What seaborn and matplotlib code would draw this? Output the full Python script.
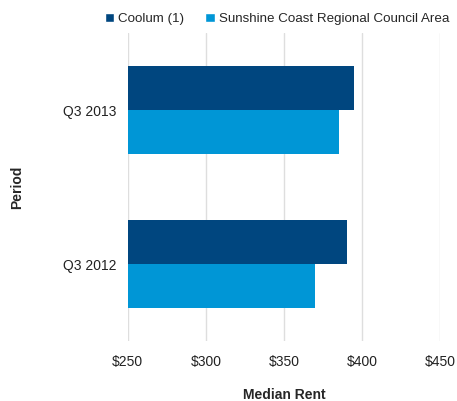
import matplotlib
matplotlib.use("Agg")
import matplotlib.pyplot as plt
import seaborn as sns
import pandas as pd
from matplotlib.patches import Patch

periods = ["Q3 2013", "Q3 2012"]
series = ["Coolum (1)", "Sunshine Coast Regional Council Area"]
coolum = [395, 390]
sunshine = [385, 370]
xticks = [250, 300, 350, 400, 450]
colors = ["#00467F", "#0096D6"]

df = pd.DataFrame({
    "Period": periods * 2,
    "Series": [series[0]] * 2 + [series[1]] * 2,
    "Rent": coolum + sunshine,
})

sns.set_theme(style="white")
plt.rcParams["font.family"] = ["Liberation Sans", "DejaVu Sans"]

fig = plt.figure(figsize=(4.57, 4.01), dpi=100)
ax = fig.add_axes([0.2794, 0.1496, 0.6841, 0.7681])

sns.barplot(data=df, y="Period", x="Rent", hue="Series", order=periods,
            hue_order=series, palette=colors, orient="h", width=0.57,
            ax=ax, legend=False, saturation=1, linewidth=0)

ax.set_xlim(250, 450)
ax.set_ylim(1.5, -0.5)
ax.set_xticks(xticks)
ax.set_xticklabels([f"${v}" for v in xticks], fontsize=10, color="#222222")
ax.tick_params(axis="y", labelsize=10, labelcolor="#222222", length=0, pad=8)
ax.tick_params(axis="x", length=0, pad=10)
ax.grid(axis="x", color="#DEDEDE", linewidth=1)
ax.set_axisbelow(True)
for s in ax.spines.values():
    s.set_visible(False)

ax.set_xlabel("Median Rent", fontsize=10, fontweight="bold", labelpad=14)
ax.set_ylabel("Period", fontsize=10, fontweight="bold", labelpad=28)

handles = [Patch(facecolor=c, label=l) for c, l in zip(colors, series)]
fig.legend(handles=handles, loc="center", bbox_to_anchor=(0.606, 0.953), ncol=2,
           frameon=False, fontsize=9.6, handlelength=0.7, handleheight=0.7,
           handletextpad=0.3, columnspacing=1.6)

fig.savefig("out.png", dpi=100)
